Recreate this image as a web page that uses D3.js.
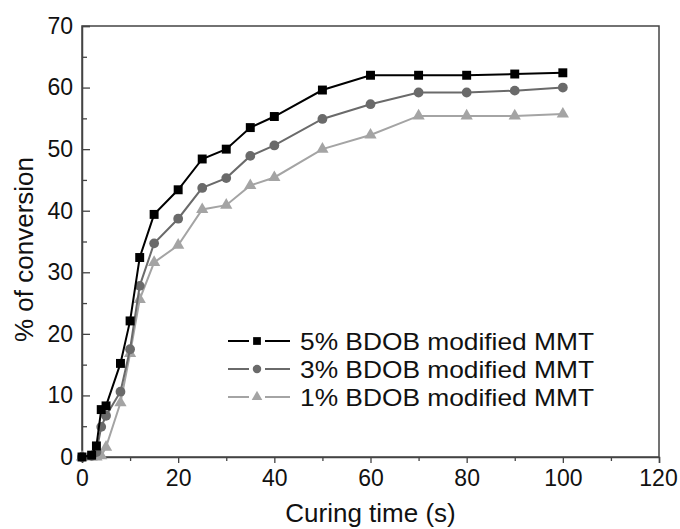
<!DOCTYPE html>
<html>
<head>
<meta charset="utf-8">
<title>Conversion vs curing time</title>
<script src="https://d3js.org/d3.v7.min.js"></script>
<style>
  body { margin: 0; background: #fff; }
  text { font-family: "Liberation Sans", Arial, sans-serif; fill: #111; }
</style>
</head>
<body>
<div id="chart"></div>
<script>
// curing time (s)
const times = [0, 2, 3, 4, 5, 8, 10, 12, 15, 20, 25, 30, 35, 40, 50, 60, 70, 80, 90, 100];
const conv5 = [0, 0.3, 1.8, 7.7, 8.3, 15.2, 22.1, 32.4, 39.4, 43.4, 48.4, 50.0, 53.5, 55.3, 59.6, 62.0, 62.0, 62.0, 62.2, 62.4];
const conv3 = [0, 0.2, 0.8, 4.9, 6.7, 10.6, 17.5, 27.8, 34.7, 38.7, 43.7, 45.3, 48.9, 50.6, 54.9, 57.3, 59.2, 59.2, 59.5, 60.0];
const conv1 = [0, 0, 0, 0.2, 1.6, 8.8, 16.8, 25.6, 31.6, 34.4, 40.2, 40.9, 44.1, 45.4, 50.0, 52.3, 55.4, 55.4, 55.4, 55.7];
const seriesNames = ["5% BDOB modified MMT", "3% BDOB modified MMT", "1% BDOB modified MMT"];
const xTicks = [0, 20, 40, 60, 80, 100, 120];
const yTicks = [0, 10, 20, 30, 40, 50, 60, 70];

const width = 680, height = 529;
const margin = {top: 26, right: 21, bottom: 72, left: 82};

const svg = d3.select("#chart").append("svg")
    .attr("width", width)
    .attr("height", height);

const x = d3.scaleLinear().domain([0, 120]).range([margin.left, width - margin.right]);
const y = d3.scaleLinear().domain([0, 70]).range([height - margin.bottom, margin.top]);

const series = [
    {name: seriesNames[0], values: conv5, color: "#000000", shape: d3.symbolSquare, size: 80},
    {name: seriesNames[1], values: conv3, color: "#6a6a6a", shape: d3.symbolCircle, size: 75},
    {name: seriesNames[2], values: conv1, color: "#a4a4a4", shape: d3.symbolTriangle, size: 65}
];

// frame
svg.append("rect")
    .attr("x", x(0)).attr("y", y(70))
    .attr("width", x(120) - x(0)).attr("height", y(0) - y(70))
    .attr("fill", "none").attr("stroke", "#444").attr("stroke-width", 1.5);

// x axis (ticks outward)
const xAxis = svg.append("g")
    .attr("transform", `translate(0,${y(0)})`)
    .call(d3.axisBottom(x).tickValues(xTicks).tickSize(6).tickPadding(7).tickFormat(d3.format("d")));
svg.append("g")
    .attr("transform", `translate(0,${y(0)})`)
    .call(d3.axisBottom(x).tickValues(d3.range(10, 120, 20)).tickSize(4).tickFormat(""))
    .call(g => g.select(".domain").remove());

// y axis (ticks inward)
const yAxis = svg.append("g")
    .attr("transform", `translate(${x(0)},0)`)
    .call(d3.axisLeft(y).tickValues(yTicks).tickSize(-8).tickFormat(d3.format("d")));
svg.append("g")
    .attr("transform", `translate(${x(0)},0)`)
    .call(d3.axisLeft(y).tickValues(d3.range(5, 70, 10)).tickSize(-5).tickFormat(""))
    .call(g => g.select(".domain").remove());

svg.selectAll(".domain").attr("stroke", "#444").attr("stroke-width", 1.5);
svg.selectAll(".tick line").attr("stroke", "#444").attr("stroke-width", 1.3);
svg.selectAll(".tick text")
    .attr("font-size", 23)
    .attr("font-family", "Liberation Sans, Arial, sans-serif")
    .attr("fill", "#111");
yAxis.selectAll(".tick text").attr("x", -9);
// keep the last label inside the page
xAxis.selectAll(".tick text").filter(d => d === 120).attr("dx", -1);

// axis titles
svg.append("text")
    .attr("x", (x(0) + x(120)) / 2)
    .attr("y", 522)
    .attr("text-anchor", "middle")
    .attr("font-size", 26)
    .text("Curing time (s)");

svg.append("text")
    .attr("transform", `translate(33,${(y(0) + y(70)) / 2 + 8}) rotate(-90)`)
    .attr("text-anchor", "middle")
    .attr("font-size", 26)
    .text("% of conversion");

// lines and markers
const line = d3.line()
    .x((d, i) => x(times[i]))
    .y(d => y(d));

series.slice().reverse().forEach(s => {
    svg.append("path")
        .datum(s.values)
        .attr("fill", "none")
        .attr("stroke", s.color)
        .attr("stroke-width", 2)
        .attr("d", line);
    svg.append("g").selectAll("path")
        .data(s.values)
        .join("path")
        .attr("transform", (d, i) => `translate(${x(times[i])},${y(d)})`)
        .attr("d", d3.symbol().type(s.shape).size(s.size))
        .attr("fill", s.color);
});

// legend
const legend = svg.append("g").attr("transform", "translate(228,341)");
series.forEach((s, i) => {
    const row = legend.append("g").attr("transform", `translate(0,${i * 28})`);
    row.append("line").attr("x1", 0).attr("x2", 21).attr("y1", 0).attr("y2", 0)
        .attr("stroke", s.color).attr("stroke-width", 2);
    row.append("line").attr("x1", 37).attr("x2", 62).attr("y1", 0).attr("y2", 0)
        .attr("stroke", s.color).attr("stroke-width", 2);
    row.append("path")
        .attr("transform", "translate(29,0)")
        .attr("d", d3.symbol().type(s.shape).size(s.size * 0.75))
        .attr("fill", s.color);
    row.append("text")
        .attr("x", 72)
        .attr("y", 8.5)
        .attr("font-size", 24)
        .attr("textLength", 294)
        .attr("lengthAdjust", "spacingAndGlyphs")
        .text(s.name);
});
</script>
</body>
</html>
